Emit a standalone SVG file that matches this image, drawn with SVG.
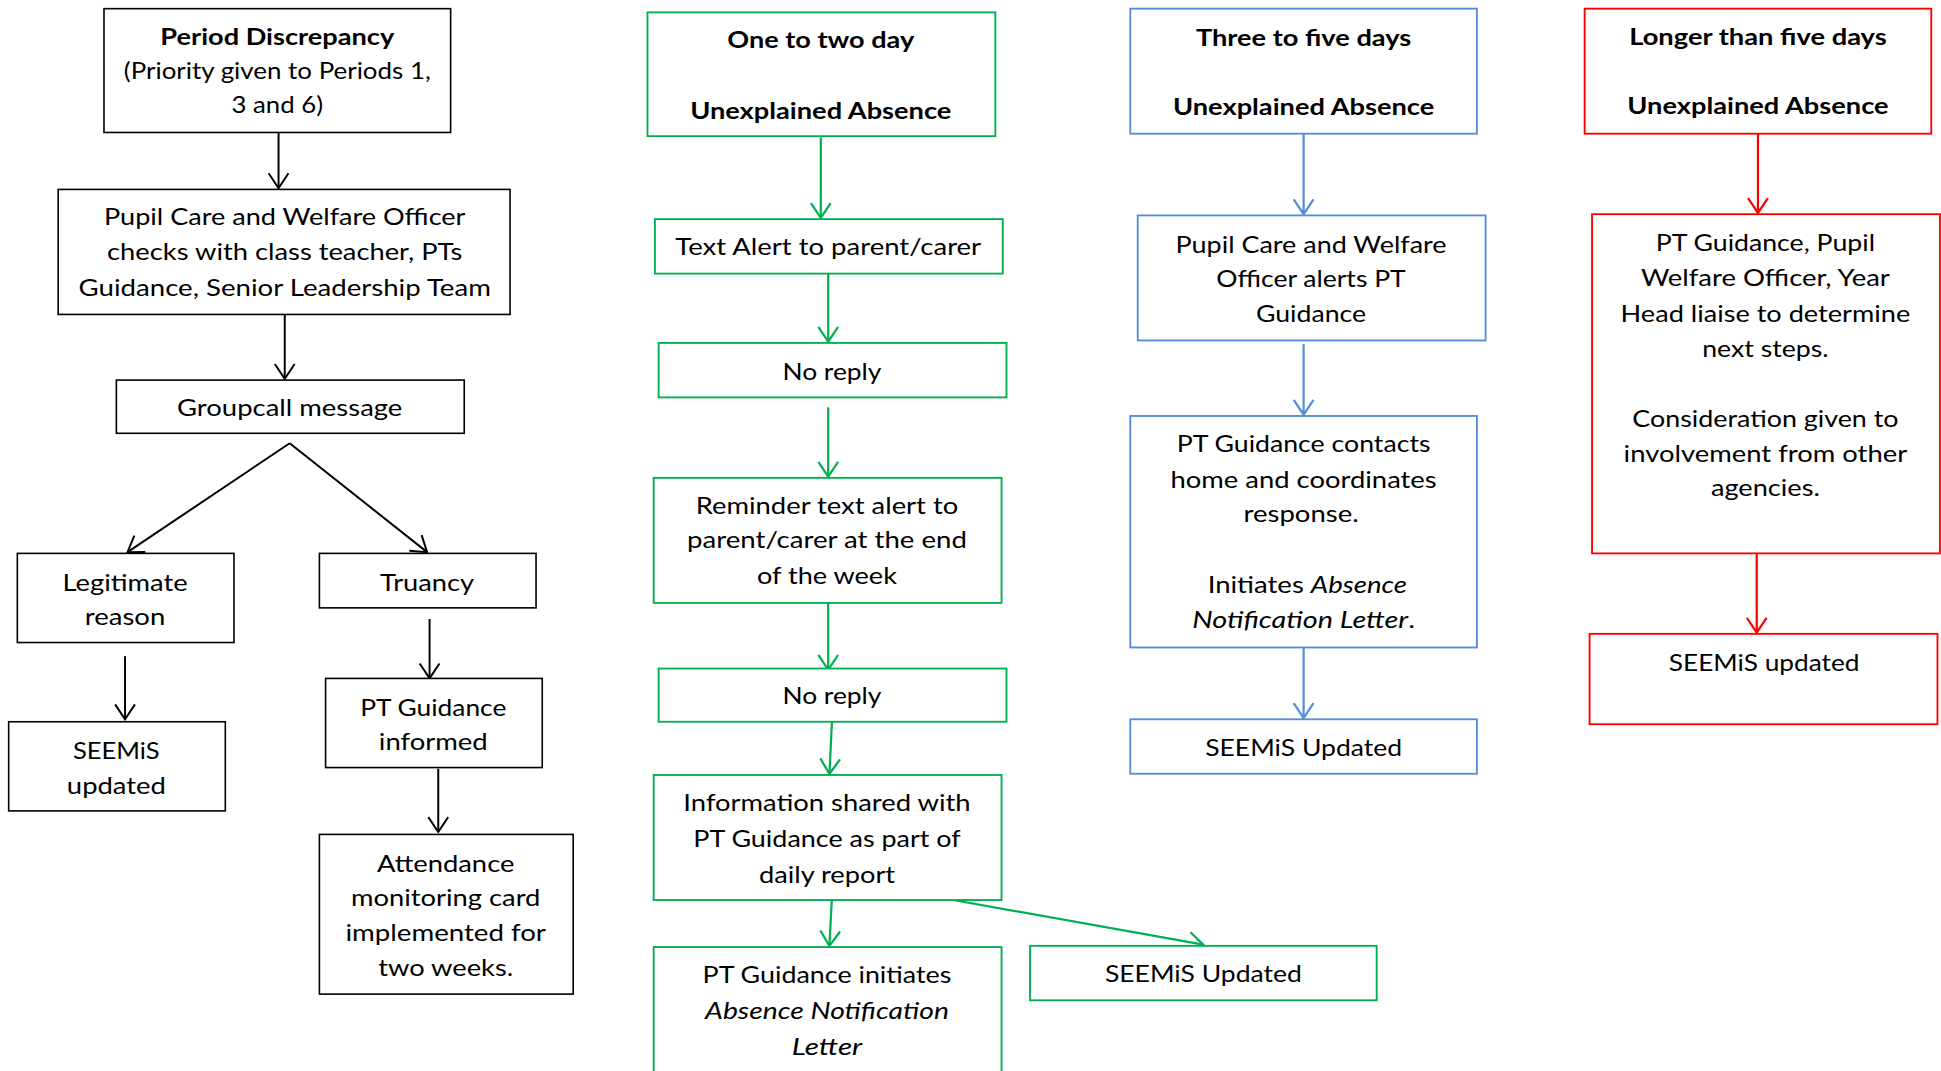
<svg xmlns="http://www.w3.org/2000/svg" width="1941" height="1071" viewBox="0 0 1941 1071">
<style>
.t{font-family:Lato,"Open Sans","Liberation Sans",sans-serif;font-size:19px;text-anchor:middle;fill:#000}
.b{font-weight:bold}
.i{font-style:italic}
.k rect{fill:#fff;stroke:#000;stroke-width:1.3}
.g rect{fill:#fff;stroke:#00B050;stroke-width:1.5}
.u rect{fill:#fff;stroke:#558ED5;stroke-width:1.5}
.r rect{fill:#fff;stroke:#FF0000;stroke-width:1.5}
.ck{stroke:#000;stroke-width:1.6;fill:none;marker-end:url(#ak)}
.cg{stroke:#00B050;stroke-width:1.8;fill:none;marker-end:url(#ag)}
.cu{stroke:#558ED5;stroke-width:1.8;fill:none;marker-end:url(#au)}
.cr{stroke:#FF0000;stroke-width:1.8;fill:none;marker-end:url(#ar)}
</style>
<defs>
<marker id="ak" markerUnits="userSpaceOnUse" viewBox="0 0 14 18" refX="13" refY="9" markerWidth="14" markerHeight="18" orient="auto"><path d="M1,1 L13,9 L1,17" fill="none" stroke="#000" stroke-width="1.6"/></marker>
<marker id="ag" markerUnits="userSpaceOnUse" viewBox="0 0 14 18" refX="13" refY="9" markerWidth="14" markerHeight="18" orient="auto"><path d="M1,1 L13,9 L1,17" fill="none" stroke="#00B050" stroke-width="1.8"/></marker>
<marker id="au" markerUnits="userSpaceOnUse" viewBox="0 0 14 18" refX="13" refY="9" markerWidth="14" markerHeight="18" orient="auto"><path d="M1,1 L13,9 L1,17" fill="none" stroke="#558ED5" stroke-width="1.8"/></marker>
<marker id="ar" markerUnits="userSpaceOnUse" viewBox="0 0 14 18" refX="13" refY="9" markerWidth="14" markerHeight="18" orient="auto"><path d="M1,1 L13,9 L1,17" fill="none" stroke="#FF0000" stroke-width="1.8"/></marker>
</defs>
<rect width="1941" height="1071" fill="#fff"/>
<g transform="scale(1.238)">
<g id="connectors">
<line class="ck" x1="225" y1="107" x2="225" y2="152"/>
<line class="ck" x1="230" y1="254" x2="230" y2="306"/>
<line class="ck" x1="234" y1="358" x2="103" y2="446"/>
<line class="ck" x1="234" y1="358" x2="345" y2="446"/>
<line class="ck" x1="101" y1="530" x2="101" y2="581"/>
<line class="ck" x1="347" y1="500" x2="347" y2="548"/>
<line class="ck" x1="354" y1="621" x2="354" y2="672"/>
<line class="cg" x1="663" y1="111" x2="663" y2="176"/>
<line class="cg" x1="669" y1="221" x2="669" y2="276"/>
<line class="cg" x1="669" y1="329" x2="669" y2="385"/>
<line class="cg" x1="669" y1="487" x2="669" y2="541"/>
<line class="cg" x1="672" y1="583" x2="670" y2="625"/>
<line class="cg" x1="672" y1="724" x2="670" y2="764"/>
<line class="cg" x1="770" y1="727" x2="972" y2="763"/>
<line class="cu" x1="1053" y1="108" x2="1053" y2="173"/>
<line class="cu" x1="1053" y1="278" x2="1053" y2="335"/>
<line class="cu" x1="1053" y1="523" x2="1053" y2="580"/>
<line class="cr" x1="1420" y1="108" x2="1420" y2="172"/>
<line class="cr" x1="1419" y1="447" x2="1419" y2="511"/>
</g>

<g id="period" class="k"><rect x="84" y="7" width="280" height="100"/>
<text class="t b" x="224" y="36" textLength="189" lengthAdjust="spacingAndGlyphs">Period Discrepancy</text>
<text class="t" x="224" y="64" textLength="248" lengthAdjust="spacingAndGlyphs">(Priority given to Periods 1,</text>
<text class="t" x="224" y="91" textLength="74" lengthAdjust="spacingAndGlyphs">3 and 6)</text></g>

<g id="checks" class="k"><rect x="47" y="153" width="365" height="101"/>
<text class="t" x="230" y="182" textLength="292" lengthAdjust="spacingAndGlyphs">Pupil Care and Welfare Officer</text>
<text class="t" x="230" y="210" textLength="287" lengthAdjust="spacingAndGlyphs">checks with class teacher, PTs</text>
<text class="t" x="230" y="239" textLength="333" lengthAdjust="spacingAndGlyphs">Guidance, Senior Leadership Team</text></g>

<g id="groupcall" class="k"><rect x="94" y="307" width="281" height="43"/>
<text class="t" x="234" y="336" textLength="182" lengthAdjust="spacingAndGlyphs">Groupcall message</text></g>

<g id="legit" class="k"><rect x="14" y="447" width="175" height="72"/>
<text class="t" x="101" y="477" textLength="101" lengthAdjust="spacingAndGlyphs">Legitimate</text>
<text class="t" x="101" y="505" textLength="65" lengthAdjust="spacingAndGlyphs">reason</text></g>

<g id="truancy" class="k"><rect x="258" y="447" width="175" height="44"/>
<text class="t" x="345" y="477" textLength="76" lengthAdjust="spacingAndGlyphs">Truancy</text></g>

<g id="seemis1" class="k"><rect x="7" y="583" width="175" height="72"/>
<text class="t" x="94" y="613" textLength="70" lengthAdjust="spacingAndGlyphs">SEEMiS</text>
<text class="t" x="94" y="641" textLength="80" lengthAdjust="spacingAndGlyphs">updated</text></g>

<g id="ptinformed" class="k"><rect x="263" y="548" width="175" height="72"/>
<text class="t" x="350" y="578" textLength="118" lengthAdjust="spacingAndGlyphs">PT Guidance</text>
<text class="t" x="350" y="606" textLength="88" lengthAdjust="spacingAndGlyphs">informed</text></g>

<g id="attendance" class="k"><rect x="258" y="674" width="205" height="129"/>
<text class="t" x="360" y="704" textLength="111" lengthAdjust="spacingAndGlyphs">Attendance</text>
<text class="t" x="360" y="732" textLength="153" lengthAdjust="spacingAndGlyphs">monitoring card</text>
<text class="t" x="360" y="760" textLength="162" lengthAdjust="spacingAndGlyphs">implemented for</text>
<text class="t" x="360" y="788" textLength="109" lengthAdjust="spacingAndGlyphs">two weeks.</text></g>

<g id="oneday" class="g"><rect x="523" y="10" width="281" height="100"/>
<text class="t b" x="663" y="39" textLength="151" lengthAdjust="spacingAndGlyphs">One to two day</text>
<text class="t b" x="663" y="96" textLength="211" lengthAdjust="spacingAndGlyphs">Unexplained Absence</text></g>

<g id="textalert" class="g"><rect x="529" y="177" width="281" height="44"/>
<text class="t" x="669" y="206" textLength="247" lengthAdjust="spacingAndGlyphs">Text Alert to parent/carer</text></g>

<g id="noreply1" class="g"><rect x="532" y="277" width="281" height="44"/>
<text class="t" x="672" y="307" textLength="80" lengthAdjust="spacingAndGlyphs">No reply</text></g>

<g id="reminder" class="g"><rect x="528" y="386" width="281" height="101"/>
<text class="t" x="668" y="415" textLength="212" lengthAdjust="spacingAndGlyphs">Reminder text alert to</text>
<text class="t" x="668" y="443" textLength="226" lengthAdjust="spacingAndGlyphs">parent/carer at the end</text>
<text class="t" x="668" y="472" textLength="113" lengthAdjust="spacingAndGlyphs">of the week</text></g>

<g id="noreply2" class="g"><rect x="532" y="540" width="281" height="43"/>
<text class="t" x="672" y="569" textLength="80" lengthAdjust="spacingAndGlyphs">No reply</text></g>

<g id="infoshared" class="g"><rect x="528" y="626" width="281" height="101"/>
<text class="t" x="668" y="655" textLength="232" lengthAdjust="spacingAndGlyphs">Information shared with</text>
<text class="t" x="668" y="684" textLength="216" lengthAdjust="spacingAndGlyphs">PT Guidance as part of</text>
<text class="t" x="668" y="713" textLength="110" lengthAdjust="spacingAndGlyphs">daily report</text></g>

<g id="ptinitiates" class="g"><rect x="528" y="765" width="281" height="120"/>
<text class="t" x="668" y="794" textLength="201" lengthAdjust="spacingAndGlyphs">PT Guidance initiates</text>
<text class="t i" x="668" y="823" textLength="197" lengthAdjust="spacingAndGlyphs">Absence Notification</text>
<text class="t i" x="668" y="852" textLength="57" lengthAdjust="spacingAndGlyphs">Letter</text></g>

<g id="seemis2" class="g"><rect x="832" y="764" width="280" height="44"/>
<text class="t" x="972" y="793" textLength="159" lengthAdjust="spacingAndGlyphs">SEEMiS Updated</text></g>

<g id="threedays" class="u"><rect x="913" y="7" width="280" height="101"/>
<text class="t b" x="1053" y="37" textLength="174" lengthAdjust="spacingAndGlyphs">Three to five days</text>
<text class="t b" x="1053" y="93" textLength="211" lengthAdjust="spacingAndGlyphs">Unexplained Absence</text></g>

<g id="alertspt" class="u"><rect x="919" y="174" width="281" height="101"/>
<text class="t" x="1059" y="204" textLength="219" lengthAdjust="spacingAndGlyphs">Pupil Care and Welfare</text>
<text class="t" x="1059" y="232" textLength="153" lengthAdjust="spacingAndGlyphs">Officer alerts PT</text>
<text class="t" x="1059" y="260" textLength="89" lengthAdjust="spacingAndGlyphs">Guidance</text></g>

<g id="contacts" class="u"><rect x="913" y="336" width="280" height="187"/>
<text class="t" x="1053" y="365" textLength="205" lengthAdjust="spacingAndGlyphs">PT Guidance contacts</text>
<text class="t" x="1053" y="394" textLength="215" lengthAdjust="spacingAndGlyphs">home and coordinates</text>
<text class="t" x="1051" y="422" textLength="93" lengthAdjust="spacingAndGlyphs">response.</text>
<text class="t" x="1056" y="479" textLength="161" lengthAdjust="spacingAndGlyphs">Initiates <tspan class="i">Absence</tspan></text>
<text class="t" x="1053" y="507" textLength="180" lengthAdjust="spacingAndGlyphs"><tspan class="i">Notification Letter</tspan>.</text></g>

<g id="seemis3" class="u"><rect x="913" y="581" width="280" height="44"/>
<text class="t" x="1053" y="611" textLength="159" lengthAdjust="spacingAndGlyphs">SEEMiS Updated</text></g>

<g id="longer" class="r"><rect x="1280" y="7" width="280" height="101"/>
<text class="t b" x="1420" y="36" textLength="208" lengthAdjust="spacingAndGlyphs">Longer than five days</text>
<text class="t b" x="1420" y="92" textLength="211" lengthAdjust="spacingAndGlyphs">Unexplained Absence</text></g>

<g id="liaise" class="r"><rect x="1286" y="173" width="281" height="274"/>
<text class="t" x="1426" y="203" textLength="177" lengthAdjust="spacingAndGlyphs">PT Guidance, Pupil</text>
<text class="t" x="1426" y="231" textLength="201" lengthAdjust="spacingAndGlyphs">Welfare Officer, Year</text>
<text class="t" x="1426" y="260" textLength="234" lengthAdjust="spacingAndGlyphs">Head liaise to determine</text>
<text class="t" x="1426" y="288" textLength="102" lengthAdjust="spacingAndGlyphs">next steps.</text>
<text class="t" x="1426" y="345" textLength="215" lengthAdjust="spacingAndGlyphs">Consideration given to</text>
<text class="t" x="1426" y="373" textLength="229" lengthAdjust="spacingAndGlyphs">involvement from other</text>
<text class="t" x="1426" y="401" textLength="88" lengthAdjust="spacingAndGlyphs">agencies.</text></g>

<g id="seemis4" class="r"><rect x="1284" y="512" width="281" height="73"/>
<text class="t" x="1425" y="542" textLength="154" lengthAdjust="spacingAndGlyphs">SEEMiS updated</text></g>
</g>
</svg>
